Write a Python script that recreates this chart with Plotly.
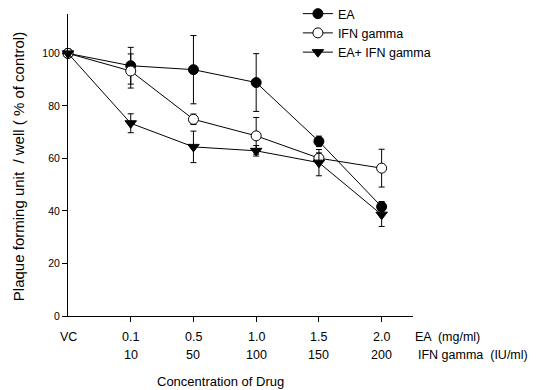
import plotly.graph_objects as go

# Data
x_pos = [0, 1, 2, 3, 4, 5]
ea_labels = ["VC", "0.1", "0.5", "1.0", "1.5", "2.0"]
ifn_labels = ["", "10", "50", "100", "150", "200"]
y_ticks = [0, 20, 40, 60, 80, 100]

ea_vals = [100, 95.3, 93.8, 88.9, 66.5, 41.6]
ea_err = [0, 7, 13, 11, 2, 2]
ifn_vals = [100, 93.3, 74.9, 68.6, 60.1, 56.3]
ifn_err = [0, 6.5, 2, 7, 2, 7.2]
combo_vals = [100, 73.4, 64.4, 62.9, 58.4, 38.6]
combo_err = [0, 3.6, 6, 2, 5, 4.5]

FONT = "Liberation Sans, Arial, sans-serif"

# page body adds 8px offset; work in reference pixels minus 8
OFF = 8
W, H = 536 - OFF, 390 - OFF
L, R_EDGE, T, B_EDGE = 68.3 - OFF, 413 - OFF, 14 - OFF, 316 - OFF
PW, PH = R_EDGE - L, B_EDGE - T

def px(xr):
    return (xr - OFF - L) / PW

def py(yr):
    return (B_EDGE - (yr - OFF)) / PH

fig = go.Figure()

def add(name, y, err, symbol, fill):
    fig.add_trace(go.Scatter(
        x=x_pos, y=y, name=name, mode="lines+markers",
        line=dict(color="black", width=1),
        marker=dict(symbol=symbol, size=10, color=fill,
                    line=dict(color="black", width=1)),
        error_y=dict(type="data", array=err, visible=True,
                     color="black", thickness=1, width=3),
        cliponaxis=False,
    ))

add("EA", ea_vals, ea_err, "circle", "black")
add("IFN gamma", ifn_vals, ifn_err, "circle", "white")
add("EA+ IFN gamma", combo_vals, combo_err, "triangle-down", "black")

tf = dict(size=12.5, family=FONT, color="black")
annotations = []
for xp, a, b in zip(x_pos, ea_labels, ifn_labels):
    annotations.append(dict(x=xp, y=py(336.5), xref="x", yref="paper", text=a,
                            showarrow=False, font=tf, xanchor="center", yanchor="middle"))
    if b:
        annotations.append(dict(x=xp, y=py(355), xref="x", yref="paper", text=b,
                                showarrow=False, font=tf, xanchor="center", yanchor="middle"))
annotations.append(dict(x=px(413), y=py(336.5), xref="paper", yref="paper", text="EA  (mg/ml)",
                        showarrow=False, font=tf, xanchor="left", yanchor="middle"))
annotations.append(dict(x=px(416), y=py(355), xref="paper", yref="paper", text="IFN gamma  (IU/ml)",
                        showarrow=False, font=tf, xanchor="left", yanchor="middle"))
annotations.append(dict(x=px(221), y=py(381), xref="paper", yref="paper", text="Concentration of Drug",
                        showarrow=False, font=dict(size=13, family=FONT, color="black"),
                        xanchor="center", yanchor="middle"))
annotations.append(dict(x=px(19), y=py(166.5), xref="paper", yref="paper", textangle=-90,
                        text="Plaque forming unit  / well ( % of control)",
                        showarrow=False, font=dict(size=15, family=FONT, color="black"),
                        xanchor="center", yanchor="middle"))

fig.update_layout(
    width=W, height=H,
    margin=dict(l=L, r=W - R_EDGE, t=T, b=H - B_EDGE, pad=0, autoexpand=False),
    paper_bgcolor="white", plot_bgcolor="white",
    font=dict(family=FONT, size=11, color="black"),
    showlegend=True,
    legend=dict(x=px(298), y=py(-1), xanchor="left", yanchor="top",
                bgcolor="rgba(0,0,0,0)", font=dict(size=12.5, family=FONT),
                itemwidth=30, tracegroupgap=0),
    xaxis=dict(range=[0, 5.5], showgrid=False, zeroline=False,
               showline=True, linecolor="black", linewidth=1,
               tickmode="array", tickvals=x_pos[1:], ticktext=[""] * 5,
               ticks="outside", ticklen=5, tickcolor="black"),
    yaxis=dict(range=[0, 115], showgrid=False, zeroline=False,
               showline=True, linecolor="black", linewidth=1,
               tickmode="array", tickvals=y_ticks,
               ticks="outside", ticklen=5, tickcolor="black",
               tickfont=dict(size=10.5, family=FONT)),
    annotations=annotations,
)

fig.write_html("out.html")
